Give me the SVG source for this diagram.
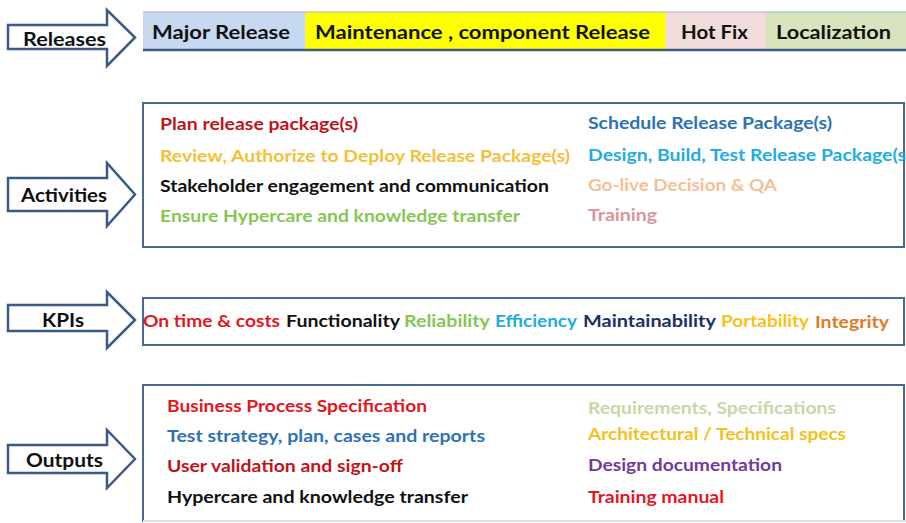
<svg xmlns="http://www.w3.org/2000/svg" width="906" height="523" viewBox="0 0 906 523">
<style>
  .arrow { fill: #ffffff; stroke: #3b5a86; stroke-width: 2.5; stroke-linejoin: miter; }
  .lbl { font-family: Lato, "Liberation Sans", sans-serif; font-weight: 700; font-size: 19px; fill: #111111; dominant-baseline: central; text-anchor: start; }
  .t { font-family: Lato, "Liberation Sans", sans-serif; font-weight: 700; font-size: 17px; dominant-baseline: central; }
  .rb { font-family: Lato, "Liberation Sans", sans-serif; font-weight: 700; font-size: 19px; fill: #111111; dominant-baseline: central; }
  .box { fill: #ffffff; stroke: #4a6a94; stroke-width: 2; }
</style>
<rect x="0" y="0" width="906" height="523" fill="#ffffff"/>

<g id="releases-arrow">
  <path class="arrow" d="M8,25 H107 V10 L135,37.5 L107,66 V49 H8 Z"/>
  <text class="lbl" x="23" y="38" textLength="83" lengthAdjust="spacingAndGlyphs">Releases</text>
</g>

<g id="releases-bar">
  <rect x="143" y="12" width="162" height="38" fill="#c6d9f1"/>
  <rect x="305" y="12" width="360" height="38" fill="#ffff00"/>
  <rect x="665" y="12" width="100" height="38" fill="#f2dcdb"/>
  <rect x="765" y="12" width="141" height="38" fill="#d7e4bd"/>
  <line x1="143" y1="12" x2="906" y2="12" stroke="#a6b4c4" stroke-width="1"/>
  <line x1="143" y1="50" x2="906" y2="50" stroke="#3b5a86" stroke-width="2.5"/>
  <text class="rb" x="152" y="31" textLength="138" lengthAdjust="spacingAndGlyphs">Major Release</text>
  <text class="rb" x="315" y="31" textLength="335" lengthAdjust="spacingAndGlyphs">Maintenance , component Release</text>
  <text class="rb" x="681" y="31" textLength="67" lengthAdjust="spacingAndGlyphs">Hot Fix</text>
  <text class="rb" x="776" y="31" textLength="115" lengthAdjust="spacingAndGlyphs">Localization</text>
</g>

<g id="activities-arrow">
  <path class="arrow" d="M8,178 H107 V163 L135,194.5 L107,226 V211 H8 Z"/>
  <text class="lbl" x="21" y="194" textLength="86" lengthAdjust="spacingAndGlyphs">Activities</text>
</g>

<g id="activities-box">
  <rect class="box" x="143" y="103" width="761" height="144"/>
  <text class="t" x="160" y="123" fill="#c0141c" textLength="198" lengthAdjust="spacingAndGlyphs">Plan release package(s)</text>
  <text class="t" x="160" y="155" fill="#f5c038" textLength="410" lengthAdjust="spacingAndGlyphs">Review, Authorize to Deploy Release Package(s)</text>
  <text class="t" x="160" y="185" fill="#111111" textLength="389" lengthAdjust="spacingAndGlyphs">Stakeholder engagement and communication</text>
  <text class="t" x="160" y="215" fill="#86c654" textLength="360" lengthAdjust="spacingAndGlyphs">Ensure Hypercare and  knowledge transfer</text>
  <text class="t" x="588" y="122" fill="#2e72b4" textLength="244" lengthAdjust="spacingAndGlyphs">Schedule Release Package(s)</text>
  <text class="t" x="588" y="154" fill="#22ace0" textLength="318" lengthAdjust="spacingAndGlyphs">Design, Build, Test Release Package(s</text>
  <text class="t" x="588" y="184" fill="#f5bf95" textLength="189" lengthAdjust="spacingAndGlyphs">Go-live Decision &amp; QA</text>
  <text class="t" x="588" y="214" fill="#d9969a" textLength="69" lengthAdjust="spacingAndGlyphs">Training</text>
</g>

<g id="kpis-arrow">
  <path class="arrow" d="M8,305 H107 V292 L135,320 L107,348 V331 H8 Z"/>
  <text class="lbl" x="42" y="319" textLength="42" lengthAdjust="spacingAndGlyphs">KPIs</text>
</g>

<g id="kpis-box">
  <rect class="box" x="143" y="298" width="761" height="47"/>
  <text class="t" x="143" y="320" fill="#e3161f" textLength="137" lengthAdjust="spacingAndGlyphs">On time &amp; costs</text>
  <text class="t" x="286" y="320" fill="#111111" textLength="114" lengthAdjust="spacingAndGlyphs">Functionality</text>
  <text class="t" x="404" y="320" fill="#86c654" textLength="86" lengthAdjust="spacingAndGlyphs">Reliability</text>
  <text class="t" x="495" y="320" fill="#22ace0" textLength="82" lengthAdjust="spacingAndGlyphs">Efficiency</text>
  <text class="t" x="583" y="320" fill="#1c2f66" textLength="133" lengthAdjust="spacingAndGlyphs">Maintainability</text>
  <text class="t" x="721" y="320" fill="#f7c217" textLength="88" lengthAdjust="spacingAndGlyphs">Portability</text>
  <text class="t" x="815" y="321" fill="#e07a26" textLength="74" lengthAdjust="spacingAndGlyphs">Integrity</text>
</g>

<g id="outputs-arrow">
  <path class="arrow" d="M8,445 H107 V430 L135,459 L107,488 V473 H8 Z"/>
  <text class="lbl" x="26" y="459" textLength="77" lengthAdjust="spacingAndGlyphs">Outputs</text>
</g>

<g id="outputs-box">
  <rect class="box" x="143" y="385" width="761" height="136"/>
  <line x1="143" y1="521" x2="906" y2="521" stroke="#dde4ee" stroke-width="2"/>
  <text class="t" x="167" y="405" fill="#e3161f" textLength="260" lengthAdjust="spacingAndGlyphs">Business Process Specification</text>
  <text class="t" x="167" y="435" fill="#2e72b4" textLength="318" lengthAdjust="spacingAndGlyphs">Test strategy,  plan, cases and reports</text>
  <text class="t" x="167" y="465" fill="#c0141c" textLength="236" lengthAdjust="spacingAndGlyphs">User validation and sign-off</text>
  <text class="t" x="167" y="496" fill="#111111" textLength="301" lengthAdjust="spacingAndGlyphs">Hypercare and  knowledge transfer</text>
  <text class="t" x="588" y="407" fill="#c4d9a8" textLength="248" lengthAdjust="spacingAndGlyphs">Requirements, Specifications</text>
  <text class="t" x="588" y="433" fill="#f5c01c" textLength="258" lengthAdjust="spacingAndGlyphs">Architectural / Technical specs</text>
  <text class="t" x="588" y="464" fill="#7239a0" textLength="194" lengthAdjust="spacingAndGlyphs">Design documentation</text>
  <text class="t" x="588" y="496" fill="#e3161f" textLength="136" lengthAdjust="spacingAndGlyphs">Training manual</text>
</g>

<g id="connectors"></g>
</svg>
